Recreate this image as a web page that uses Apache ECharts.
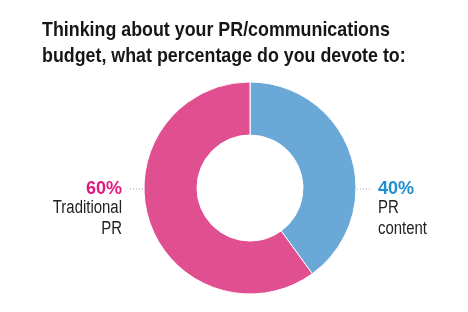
<!DOCTYPE html>
<html><head><meta charset="utf-8">
<script src="https://cdn.jsdelivr.net/npm/echarts@6/dist/echarts.min.js"></script>
<style>html,body{margin:0;padding:0;background:#fff}#c{width:468px;height:312px}</style>
</head><body><div id="c"></div>
<script>
var titleLines = ["Thinking about your PR/communications", "budget, what percentage do you devote to:"];
var categories = ["PR content", "Traditional PR"];
var values = [40, 60];
var sliceColors = ["#6aa8d8", "#e05090"];
var labelColors = ["#1e8fd0", "#e0187c"];

var FONT = "'Liberation Sans', Arial, sans-serif";
var CX = 250, CY = 188, R_OUT = 106, R_IN = 53, GAP = 22;
var chart = echarts.init(document.getElementById('c'), null, {renderer: 'canvas'});
var data = categories.map(function (c, i) {
  return {
    name: c, value: values[i],
    itemStyle: {color: sliceColors[i]},
    label: {color: labelColors[i]}
  };
});
// category names drawn beside the percentages (condensed look via scaleX)
var nameTexts = categories.map(function (c, i) {
  var right = i === 0;
  var parts = c.split(' ');
  return {
    type: 'text',
    x: right ? CX + R_OUT + GAP : CX - R_OUT - GAP,
    y: CY + 10,
    scaleX: 0.83,
    silent: true,
    style: {
      text: parts[0] + '\n' + parts.slice(1).join(' '),
      fontFamily: FONT, fontSize: 18, lineHeight: 21,
      fill: '#222',
      align: right ? 'left' : 'right', textAlign: right ? 'left' : 'right',
      verticalAlign: 'top', textVerticalAlign: 'top'
    }
  };
});
chart.setOption({
  animation: false,
  graphic: [{
    type: 'text',
    x: 42, y: 17,
    scaleX: 0.87,
    silent: true,
    style: {
      text: titleLines.join('\n'),
      fontFamily: FONT, fontWeight: 'bold', fontSize: 20.5, lineHeight: 26,
      fill: '#161616',
      align: 'left', textAlign: 'left', verticalAlign: 'top', textVerticalAlign: 'top'
    }
  }].concat(nameTexts),
  series: [{
    type: 'pie',
    center: [CX, CY],
    radius: [R_IN, R_OUT],
    startAngle: 90,
    clockwise: true,
    data: data,
    itemStyle: {borderColor: '#fff', borderWidth: 1},
    label: {
      show: true,
      position: 'outside',
      formatter: '{d}%',
      fontFamily: FONT, fontSize: 18, fontWeight: 'bold', lineHeight: 20
    },
    labelLine: {show: true, lineStyle: {color: '#aaa', type: [1, 2], width: 1}},
    labelLayout: function (params) {
      var right = params.dataIndex === 0;
      var x = right ? CX + R_OUT + GAP : CX - R_OUT - GAP;
      var a = right ? CX + R_OUT + 1 : CX - R_OUT - 1;
      var b = right ? CX + R_OUT + 16 : CX - R_OUT - 16;
      return {
        x: x, y: CY + 1,
        align: right ? 'left' : 'right',
        verticalAlign: 'middle',
        labelLinePoints: [[a, CY + 1], [(a + b) / 2, CY + 1], [b, CY + 1]]
      };
    }
  }]
});
</script></body></html>
